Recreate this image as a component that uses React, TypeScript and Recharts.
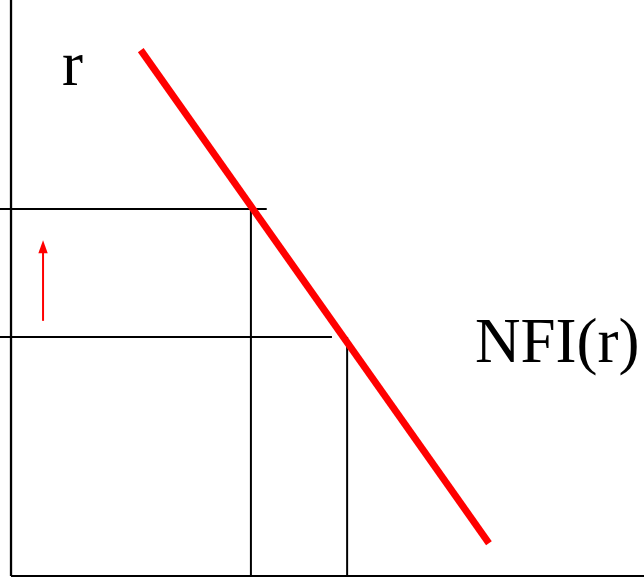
import React from "react";
import { LineChart, Line, XAxis, YAxis, ReferenceLine, ReferenceDot } from "recharts";

// Conceptual units: y-axis at x=0, x-axis at y=0
const redLine = [
  { x: 20.5, y: 91.3 },
  { x: 75.5, y: 5.7 },
];
const levelsR = [63.7, 41.5]; // interest rate levels
const levelsNFI = [37.9, 53.1]; // NFI at those rates
const hEnds = [40.4, 50.7]; // where horizontal guides stop
const arrow = { x: 5.06, from: 44.3, to: 58.3, headBase: 56.1 };
const labels = [
  { text: "r", x: 8.06, y: 85.2 },
  { text: "NFI(r)", x: 73.3, y: 37.15 },
];

const X_MIN = -1.74;
const FONT = "'Liberation Serif', 'Times New Roman', serif";

export default function App() {
  return (
    <div style={{ position: "absolute", left: 0, top: 0, background: "#fff" }}>
      <LineChart
        width={644}
        height={577}
        data={redLine}
        margin={{ top: 0, right: 0, bottom: 1, left: 0 }}
      >
        <XAxis type="number" dataKey="x" domain={[X_MIN, 100]} hide allowDataOverflow />
        <YAxis type="number" domain={[0, 100]} hide allowDataOverflow />
        {/* axes */}
        <ReferenceLine
          segment={[{ x: 0, y: 0 }, { x: 0, y: 100 }]}
          stroke="#000"
          strokeWidth={2.3}
          ifOverflow="visible"
        />
        <ReferenceLine
          segment={[{ x: 0, y: 0 }, { x: 100, y: 0 }]}
          stroke="#000"
          strokeWidth={2}
          ifOverflow="visible"
        />
        {levelsR.map((r, i) => (
          <ReferenceLine
            key={"h" + i}
            segment={[{ x: X_MIN, y: r }, { x: hEnds[i], y: r }]}
            stroke="#000"
            strokeWidth={2}
            ifOverflow="visible"
          />
        ))}
        {levelsNFI.map((n, i) => (
          <ReferenceLine
            key={"v" + i}
            segment={[{ x: n, y: levelsR[i] }, { x: n, y: 0 }]}
            stroke="#000"
            strokeWidth={2}
            ifOverflow="visible"
          />
        ))}
        <ReferenceLine
          segment={[{ x: arrow.x, y: arrow.from }, { x: arrow.x, y: arrow.headBase }]}
          stroke="#ff0000"
          strokeWidth={2}
          ifOverflow="visible"
        />
        <ReferenceDot
          x={arrow.x}
          y={arrow.to}
          ifOverflow="visible"
          shape={(p: any) => (
            <polygon
              points={`${p.cx},${p.cy} ${p.cx - 4.7},${p.cy + 13} ${p.cx + 4.7},${p.cy + 13}`}
              fill="#ff0000"
            />
          )}
        />
        <Line
          dataKey="y"
          type="linear"
          stroke="#ff0000"
          strokeWidth={7}
          dot={false}
          activeDot={false}
          isAnimationActive={false}
        />
        {labels.map((l, i) => (
          <ReferenceDot
            key={"l" + i}
            x={l.x}
            y={l.y}
            ifOverflow="visible"
            shape={(p: any) => (
              <text x={p.cx} y={p.cy} fontFamily={FONT} fontSize={63} fill="#000" textAnchor="start">
                {l.text}
              </text>
            )}
          />
        ))}
      </LineChart>
    </div>
  );
}
